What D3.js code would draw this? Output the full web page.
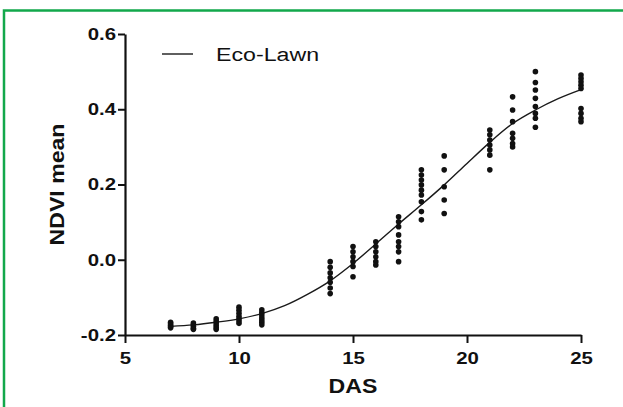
<!DOCTYPE html>
<html>
<head>
<meta charset="utf-8">
<script src="https://cdn.jsdelivr.net/npm/d3@7"></script>
<style>
  html, body { margin: 0; padding: 0; background: #fff; }
  svg { display: block; font-family: "Liberation Sans", Arial, sans-serif; }
</style>
</head>
<body>
<div id="my_dataviz"></div>
<script>
// days after sowing that were measured
var days = [7, 8, 9, 10, 11, 14, 15, 16, 17, 18, 19, 21, 22, 23, 25];

// NDVI mean of every sample, one list per day
var ndviValues = [
  [-0.166, -0.170, -0.174, -0.178, -0.181],
  [-0.168, -0.172, -0.177, -0.182, -0.185],
  [-0.157, -0.163, -0.168, -0.174, -0.180, -0.185],
  [-0.126, -0.134, -0.142, -0.150, -0.157, -0.163, -0.169],
  [-0.133, -0.140, -0.147, -0.154, -0.160, -0.166, -0.173],
  [-0.005, -0.020, -0.035, -0.048, -0.060, -0.075, -0.090],
  [0.035, 0.021, 0.008, -0.005, -0.018, -0.045],
  [0.048, 0.035, 0.021, 0.008, -0.005, -0.014],
  [0.114, 0.101, 0.088, 0.066, 0.048, 0.035, 0.021, -0.005],
  [0.239, 0.225, 0.212, 0.199, 0.185, 0.172, 0.154, 0.128, 0.106],
  [0.276, 0.239, 0.194, 0.159, 0.123],
  [0.345, 0.332, 0.318, 0.305, 0.292, 0.278, 0.239],
  [0.433, 0.398, 0.367, 0.336, 0.323, 0.309, 0.300],
  [0.500, 0.471, 0.451, 0.429, 0.407, 0.389, 0.376, 0.352],
  [0.491, 0.482, 0.473, 0.464, 0.455, 0.402, 0.389, 0.376, 0.367]
];

// fitted Eco-Lawn curve, read at each day
var fitDays = [7, 8, 9, 10, 11, 12, 13, 14, 15, 16, 17, 18, 19, 20, 21, 22, 23, 24, 25];
var fitNdvi = [-0.177, -0.173, -0.166, -0.157, -0.143, -0.122, -0.092, -0.056, -0.010,
  0.042, 0.095, 0.146, 0.199, 0.256, 0.312, 0.362, 0.398, 0.428, 0.452];

var xTicks = [5, 10, 15, 20, 25];
var yTicks = [-0.2, 0.0, 0.2, 0.4, 0.6];
var yTickLabels = ["-0.2", "0.0", "0.2", "0.4", "0.6"];

var seriesName = "Eco-Lawn";

// set the dimensions and margins of the graph
var W = 623, H = 407;
var margin = {top: 34, left: 125},
  width = 456,
  height = 301;

var svg = d3.select("#my_dataviz")
  .append("svg")
    .attr("width", W)
    .attr("height", H);

// green frame round the figure
svg.append("rect")
  .attr("x", 4)
  .attr("y", 10.5)
  .attr("width", 700)
  .attr("height", 500)
  .attr("fill", "none")
  .attr("stroke", "#12a84b")
  .attr("stroke-width", 2.5);

var g = svg.append("g")
  .attr("transform", "translate(" + margin.left + "," + margin.top + ")");

var x = d3.scaleLinear()
  .domain([5, 25])
  .range([0, width]);

var y = d3.scaleLinear()
  .domain([-0.2, 0.6])
  .range([height, 0]);

// X axis
var xAxis = g.append("g")
  .attr("transform", "translate(0," + height + ")")
  .call(d3.axisBottom(x).tickValues(xTicks).tickSize(8).tickSizeOuter(0).tickPadding(9));

// Y axis
var yAxis = g.append("g")
  .call(d3.axisLeft(y).tickValues(yTicks).tickSize(7).tickSizeOuter(0).tickPadding(2)
    .tickFormat(function(d, i) { return yTickLabels[i]; }));

[xAxis, yAxis].forEach(function(a) {
  a.select(".domain").attr("stroke", "#111").attr("stroke-width", 2.2);
  a.selectAll(".tick line").attr("stroke", "#111").attr("stroke-width", 2);
  a.selectAll(".tick text")
    .attr("fill", "#111")
    .style("font-size", "17px")
    .style("font-weight", "bold")
    .style("font-family", "'Liberation Sans', Arial, sans-serif");
});

// the labels in the figure are wider than Arial, stretch them a bit
xAxis.selectAll(".tick text").attr("transform", "scale(1.2,1)");
yAxis.selectAll(".tick text")
  .attr("x", -9 / 1.2)
  .attr("transform", "scale(1.2,1)");

// fitted curve
var line = d3.line()
  .x(function(d) { return x(d[0]); })
  .y(function(d) { return y(d[1]); })
  .curve(d3.curveMonotoneX);

g.append("path")
  .datum(fitDays.map(function(d, i) { return [d, fitNdvi[i]]; }))
  .attr("fill", "none")
  .attr("stroke", "#1a1a1a")
  .attr("stroke-width", 1.4)
  .attr("d", line);

// samples
var points = [];
days.forEach(function(d, i) {
  ndviValues[i].forEach(function(v) { points.push({day: d, ndvi: v}); });
});

g.selectAll("circle.pt")
  .data(points)
  .enter()
  .append("circle")
    .attr("class", "pt")
    .attr("cx", function(d) { return x(d.day); })
    .attr("cy", function(d) { return y(d.ndvi); })
    .attr("r", 2.8)
    .attr("fill", "#111");

// legend
g.append("line")
  .attr("x1", 37)
  .attr("x2", 68)
  .attr("y1", 20)
  .attr("y2", 20)
  .attr("stroke", "#1a1a1a")
  .attr("stroke-width", 1.4);

g.append("text")
  .attr("transform", "translate(91,27) scale(1.22,1)")
  .style("font-size", "19px")
  .attr("fill", "#111")
  .text(seriesName);

// axis titles
svg.append("text")
  .attr("transform", "translate(" + (margin.left + width / 2) + ",393) scale(1.1,1)")
  .attr("text-anchor", "middle")
  .style("font-size", "21px")
  .style("font-weight", "bold")
  .attr("fill", "#111")
  .text("DAS");

svg.append("text")
  .attr("transform", "translate(64," + (margin.top + height / 2) + ") rotate(-90) scale(1.1,1)")
  .attr("text-anchor", "middle")
  .style("font-size", "21px")
  .style("font-weight", "bold")
  .attr("fill", "#111")
  .text("NDVI mean");
</script>
</body>
</html>
